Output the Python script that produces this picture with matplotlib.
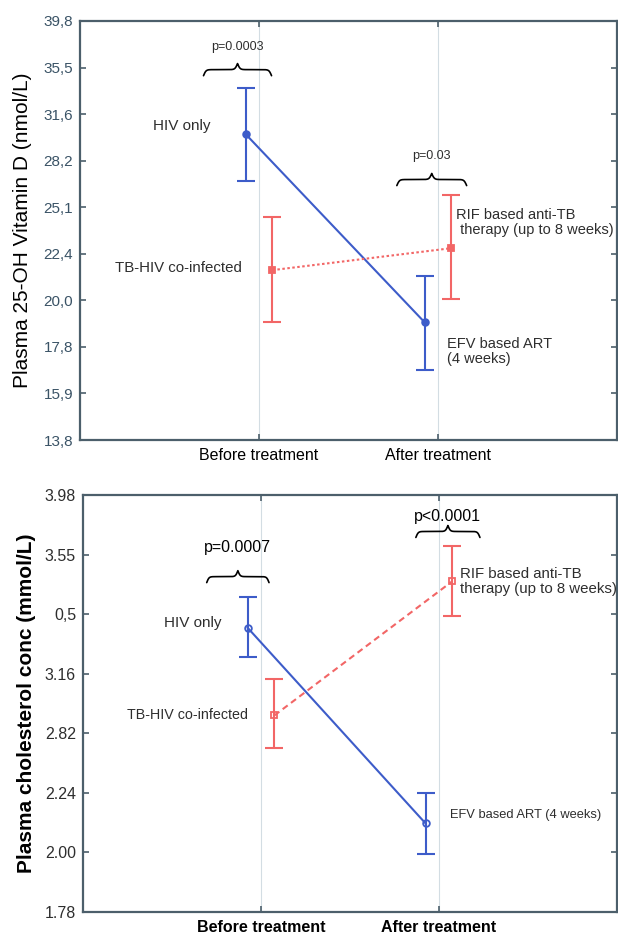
import numpy as np
import matplotlib
matplotlib.use("Agg")
import matplotlib.pyplot as plt

plt.rcParams["font.family"] = ["Liberation Sans", "DejaVu Sans"]

# ---- data -------------------------------------------------------------
categories = ["Before treatment", "After treatment"]

# panel A: plasma 25-OH vitamin D (nmol/L), log axis
vitd_ticklabels = ["13,8", "15,9", "17,8", "20,0", "22,4", "25,1", "28,2", "31,6", "35,5", "39,8"]
vitd_hiv_mean = [30.1, 18.9]
vitd_hiv_low = [26.8, 16.8]
vitd_hiv_high = [33.7, 21.2]
vitd_tb_mean = [21.5, 22.7]
vitd_tb_low = [18.9, 20.0]
vitd_tb_high = [24.5, 25.9]
vitd_pvalues = ["p=0.0003", "p=0.03"]

# panel B: plasma cholesterol (mmol/L), log axis
chol_ticklabels = ["1.78", "2.00", "2.24", "2.82", "3.16", "0,5", "3.55", "3.98"]
chol_hiv_mean = [3.08, 2.11]
chol_hiv_low = [2.91, 1.99]
chol_hiv_high = [3.27, 2.24]
chol_tb_mean = [2.60, 3.37]
chol_tb_low = [2.44, 3.15]
chol_tb_high = [2.79, 3.61]
chol_pvalues = ["p=0.0007", "p<0.0001"]

BLUE = "#3d5cc9"
RED = "#f26666"
SPINE = "#4c5f6b"
TEXT = "#2e2e2e"


def draw_brace(axis, x0, x1, y, decades, steepness=55.0):
    t = np.linspace(0.0, 1.0, 301)
    half = np.where(t <= 0.5, t, 1.0 - t)
    profile = 1.0 / (1.0 + np.exp(-steepness * half)) + 1.0 / (1.0 + np.exp(-steepness * (half - 0.5)))
    profile = profile - profile[0]
    profile = profile / profile.max() * 2.0 - 1.0
    xs = x0 + (x1 - x0) * t
    ys = y * 10 ** (decades * 0.5 * profile)
    axis.plot(xs, ys, color="black", linewidth=1.2, solid_capstyle="round")


def style_axis(axis, lo_exp, hi_exp, ticklabels, tick_size, tick_color, bold):
    axis.set_yscale("log")
    axis.set_ylim(10 ** lo_exp, 10 ** hi_exp)
    ticks = 10 ** np.linspace(lo_exp, hi_exp, len(ticklabels))
    axis.set_yticks(ticks)
    axis.set_yticklabels(ticklabels, fontsize=tick_size, color=tick_color)
    axis.yaxis.set_minor_locator(matplotlib.ticker.NullLocator())
    axis.set_xlim(-1.0, 2.0)
    axis.set_xticks([0, 1])
    axis.set_xticklabels(categories, fontsize=11.5, color="black",
                         fontweight="bold" if bold else "normal")
    axis.tick_params(axis="both", direction="in", length=4, width=1.2, color=SPINE,
                     top=True, right=True, pad=5)
    axis.tick_params(axis="x", pad=6)
    for spine in axis.spines.values():
        spine.set_color(SPINE)
        spine.set_linewidth(1.6)
    for x in (0, 1):
        axis.axvline(x, color="#d3dde3", linewidth=0.8, zorder=0)


def draw_series(axis, offset, mean, low, high, color, linestyle, marker, filled):
    xs = np.arange(len(mean)) + offset
    mean = np.asarray(mean)
    err = np.vstack((mean - np.asarray(low), np.asarray(high) - mean))
    axis.errorbar(xs, mean, yerr=err, fmt="none", ecolor=color, elinewidth=1.5,
                  capsize=6.5, capthick=1.5, zorder=2)
    axis.plot(xs, mean, color=color, linestyle=linestyle, linewidth=1.5,
              marker=marker, markersize=4.8,
              markerfacecolor=color if filled else "none",
              markeredgecolor=color, markeredgewidth=1.3, zorder=3)


fig = plt.figure(figsize=(6.18, 9.34), dpi=100)
fig.patch.set_facecolor("white")

# ---- top panel ----------------------------------------------------------
ax1 = fig.add_axes([80 / 618, 494 / 934, 537 / 618, 419 / 934])
style_axis(ax1, 1.15, 1.6, vitd_ticklabels, 11, "#3a5366", False)
draw_series(ax1, -0.075, vitd_hiv_mean, vitd_hiv_low, vitd_hiv_high, BLUE, "-", "o", True)
draw_series(ax1, 0.075, vitd_tb_mean, vitd_tb_low, vitd_tb_high, RED, (0, (1.2, 1.2)), "s", True)
ax1.set_ylabel("Plasma 25-OH Vitamin D (nmol/L)", fontsize=15, color="black", labelpad=8)

draw_brace(ax1, -0.31, 0.07, 35.3, 0.013)
ax1.text(-0.12, 37.3, vitd_pvalues[0], ha="center", va="center", fontsize=9, color=TEXT)
draw_brace(ax1, 0.77, 1.16, 26.9, 0.013)
ax1.text(0.965, 28.5, vitd_pvalues[1], ha="center", va="center", fontsize=9, color=TEXT)

ax1.text(-0.27, 30.7, "HIV only", ha="right", va="center", fontsize=11, color=TEXT)
ax1.text(-0.095, 21.6, "TB-HIV co-infected", ha="right", va="center", fontsize=10.8, color=TEXT)
ax1.text(1.10, 24.2, "RIF based anti-TB\n therapy (up to 8 weeks)", ha="left", va="center",
         fontsize=10.5, color=TEXT, linespacing=1.1)
ax1.text(1.05, 17.6, "EFV based ART\n(4 weeks)", ha="left", va="center",
         fontsize=10.5, color=TEXT, linespacing=1.1)

# ---- bottom panel ---------------------------------------------------------
ax2 = fig.add_axes([83 / 618, 22 / 934, 534 / 618, 417 / 934])
style_axis(ax2, 0.25, 0.6, chol_ticklabels, 11.5, TEXT, True)
draw_series(ax2, -0.075, chol_hiv_mean, chol_hiv_low, chol_hiv_high, BLUE, "-", "o", False)
draw_series(ax2, 0.075, chol_tb_mean, chol_tb_low, chol_tb_high, RED, (0, (3, 2)), "s", False)
ax2.set_ylabel("Plasma cholesterol conc (mmol/L)", fontsize=15, fontweight="bold",
               color="black", labelpad=6)

draw_brace(ax2, -0.305, 0.045, 3.40, 0.010)
ax2.text(-0.13, 3.60, chol_pvalues[0], ha="center", va="center", fontsize=11.5, color="black")
draw_brace(ax2, 0.87, 1.23, 3.71, 0.010)
ax2.text(1.05, 3.82, chol_pvalues[1], ha="center", va="center", fontsize=11.5, color="black")

ax2.text(-0.22, 3.11, "HIV only", ha="right", va="center", fontsize=11, color=TEXT)
ax2.text(-0.072, 2.60, "TB-HIV co-infected", ha="right", va="center", fontsize=10.3, color=TEXT)
ax2.text(1.117, 3.37, "RIF based anti-TB\ntherapy (up to 8 weeks)", ha="left", va="center",
         fontsize=10.8, color=TEXT, linespacing=1.1)
ax2.text(1.061, 2.145, "EFV based ART (4 weeks)", ha="left", va="center", fontsize=9.3, color=TEXT)

fig.savefig("out.png", dpi=100)
